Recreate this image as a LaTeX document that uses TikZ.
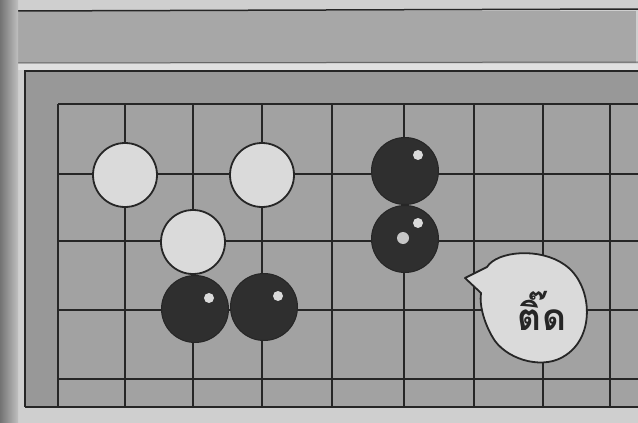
\documentclass[tikz,border=0pt]{standalone}
\usepackage{fontspec}
\newfontfamily\thaifont[Script=Thai]{Loma}
\usetikzlibrary{positioning}
\definecolor{pagegray}{HTML}{CFCFCF}
\definecolor{panelgray}{HTML}{A7A7A7}
\definecolor{boardgray}{HTML}{989898}
\definecolor{gridgray}{HTML}{A2A2A2}
\definecolor{inkgray}{HTML}{262626}
\definecolor{stonewhite}{HTML}{DADADA}
\definecolor{stoneblack}{HTML}{2F2F2F}
\tikzset{
	gridline/.style={draw=inkgray, line width=2.4pt}
}
\tikzset{
	whitestone/.style={circle, draw=inkgray, line width=1.8pt, fill=stonewhite, minimum size=64pt, inner sep=0pt},
	blackstone/.style={circle, draw=inkgray, line width=1pt, fill=stoneblack, minimum size=67pt, inner sep=0pt},
	shine/.style={fill=stonewhite}
}
\tikzset{
	bubble/.style={draw=inkgray, line width=1.8pt, fill=stonewhite}
}

\begin{document}
\begin{tikzpicture}[x=1pt, y=-1pt]
      \useasboundingbox (0,0) rectangle (638,423);
      % paper, top panel and board
      \fill[pagegray] (0,0) rectangle (638,423);
      \fill[panelgray] (14,11) rectangle (636,63);
      \draw[inkgray, line width=1.5pt] (14,11) -- (638,9);
      \draw[inkgray!70, line width=1pt] (14,63) -- (638,62);
      \fill[white!88!black] (14,64) rectangle (638,70);
      \fill[boardgray] (25,71) rectangle (638,407);
      \fill[gridgray] (58,104) rectangle (638,407);
      \shade[left color=black!55, right color=black!25] (0,0) rectangle (18,423);
      \draw[inkgray, line width=2.4pt] (25,407) -- (25,71) -- (638,71);
      % grid
      \foreach \x in {58,125,193,262,332,404,474,543,610}
        \draw[gridline] (\x,104) -- (\x,407);
      \foreach \y in {104,174,241,310,379,407}
        \draw[gridline] (58,\y) -- (638,\y);
      \draw[gridline] (25,407) -- (58,407);
      % stones
      \node[whitestone] (w1) at (125,175) {};
      \node[whitestone] (w2) at (262,175) {};
      \node[whitestone] (w3) at (193,242) {};
      \node[blackstone] (b1) at (195,309) {};
      \node[blackstone] (b2) at (264,307) {};
      \node[blackstone] (b3) at (405,171) {};
      \node[blackstone] (b4) at (405,239) {};
      \fill[shine] (b1.center) ++(14,-11) circle (5);
      \fill[shine] (b2.center) ++(14,-11) circle (5);
      \fill[shine] (b3.center) ++(13,-16) circle (5);
      \fill[shine] (b4.center) ++(13,-16) circle (5);
      \fill[gray!45] (b4.center) ++(-2,-1) circle (6);
      % speech bubble
      \draw[bubble, line join=round] (465,278) -- (487,267)
        .. controls (497,251) and (540,247) .. (565,265)
        .. controls (592,284) and (596,335) .. (566,355)
        .. controls (545,370) and (510,361) .. (495,341)
        .. controls (485,326) and (479,306) .. (481,293) -- cycle;
      \node[font=\thaifont\bfseries\fontsize{37}{37}\selectfont, text=inkgray] (tid) at (542,311) {ติ๊ด};
    \end{tikzpicture}
\end{document}
